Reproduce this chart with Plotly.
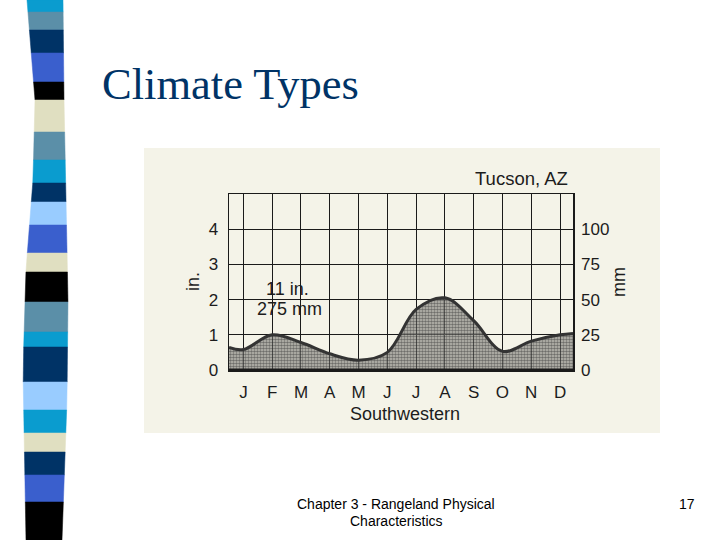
import plotly.graph_objects as go

# ---- data ----
months = ["J", "F", "M", "A", "M", "J", "J", "A", "S", "O", "N", "D"]
month_pos = list(range(12))
precip_in = [0.58, 1.00, 0.78, 0.46, 0.28, 0.50, 1.72, 2.05, 1.40, 0.53, 0.82, 1.00]
edge_pos = [-0.5, 11.45]
edge_in = [0.64, 1.04]
in_ticks = [0, 1, 2, 3, 4]
mm_ticks = [0, 25, 50, 75, 100]

x_vals = [edge_pos[0]] + month_pos + [edge_pos[1]]
y_vals = [edge_in[0]] + precip_in + [edge_in[1]]

# ---- geometry helpers (pixel -> paper) ----
L, R, T, B = 229, 573, 194, 370
W, H = 720, 540


def px(x):
    return (x - L) / (R - L)


def py(y):
    return (B - y) / (B - T)


fig = go.Figure()

fig.add_trace(go.Scatter(
    x=x_vals, y=y_vals, mode="lines",
    line=dict(shape="spline", smoothing=1.0, color="#333333", width=3),
    fill="tozeroy",
    fillcolor="rgba(95,95,90,0.55)",
    fillpattern=dict(shape=".", size=3, solidity=0.6,
                     fgcolor="#1e1e1e", bgcolor="rgba(150,150,145,0.55)"),
    hoverinfo="skip", showlegend=False,
))
# invisible trace for right axis
fig.add_trace(go.Scatter(x=[0], y=[0], yaxis="y2", mode="markers",
                         marker=dict(opacity=0), showlegend=False,
                         hoverinfo="skip"))

txt = "#1c1c1c"
fnt = dict(family="Liberation Sans, Arial", size=17, color=txt)

fig.update_layout(
    width=W, height=H,
    margin=dict(l=L, r=W - R, t=T, b=H - B),
    paper_bgcolor="white",
    plot_bgcolor="rgba(0,0,0,0)",
    xaxis=dict(range=[-0.5, 11.45], tickvals=month_pos, ticktext=months,
               showgrid=True, gridcolor="#1a1a1a", gridwidth=1,
               zeroline=False, showline=True, linecolor="#1a1a1a",
               linewidth=1.5, mirror=True, ticks="", ticklabelstandoff=6,
               tickfont=fnt, fixedrange=True),
    yaxis=dict(range=[0, 5], tickvals=in_ticks, ticktext=[str(v) for v in in_ticks],
               showgrid=True, gridcolor="#1a1a1a", gridwidth=1,
               zeroline=False, showline=True, linecolor="#1a1a1a",
               linewidth=1.5, mirror=True, ticks="", ticklabelstandoff=6,
               tickfont=fnt, fixedrange=True),
    yaxis2=dict(range=[0, 125], overlaying="y", side="right",
                tickvals=mm_ticks, ticktext=[str(v) for v in mm_ticks],
                showgrid=False, zeroline=False, showline=False, ticks="",
                ticklabelstandoff=7, tickfont=fnt, fixedrange=True),
    showlegend=False,
)

shapes = []
# scanned page background
shapes.append(dict(type="rect", xref="paper", yref="paper",
                   x0=px(144), x1=px(660), y0=py(433), y1=py(148),
                   fillcolor="#f4f3e8", line=dict(width=0), layer="below"))
# thick bottom baseline
shapes.append(dict(type="line", xref="paper", yref="paper",
                   x0=0, x1=1, y0=0, y1=0,
                   line=dict(color="#1a1a1a", width=3)))

# decorative stripe bar on the left
stripe_bounds = [0, 12, 30, 53, 82, 100, 132, 160, 183, 202, 225, 253, 272,
                 302, 332, 347, 382, 410, 433, 452, 475, 502, 540]
stripe_colors = ["#0a9ccf", "#5b8fa8", "#003366", "#3a5fcd", "#000000",
                 "#e0dfc1", "#5b8fa8", "#0a9ccf", "#003366", "#99ccff",
                 "#3a5fcd", "#e0dfc1", "#000000", "#5b8fa8", "#0a9ccf",
                 "#003366", "#99ccff", "#0a9ccf", "#e0dfc1", "#003366",
                 "#3a5fcd", "#000000"]
left_edge = [(0, 27), (100, 35), (180, 33), (270, 26), (370, 23), (540, 26)]
right_edge = [(0, 63), (100, 64), (300, 68), (400, 67), (540, 62)]


def interp(pts, y):
    for (y0, x0), (y1, x1) in zip(pts[:-1], pts[1:]):
        if y0 <= y <= y1:
            return x0 + (x1 - x0) * (y - y0) / (y1 - y0)
    return pts[-1][1]


for i, c in enumerate(stripe_colors):
    y0, y1 = stripe_bounds[i], stripe_bounds[i + 1]
    pts = [(interp(left_edge, y0), y0), (interp(right_edge, y0), y0),
           (interp(right_edge, y1), y1), (interp(left_edge, y1), y1)]
    path = "M " + " L ".join(f"{px(a):.5f},{py(b):.5f}" for a, b in pts) + " Z"
    shapes.append(dict(type="path", xref="paper", yref="paper", path=path,
                       fillcolor=c, line=dict(width=0.5, color=c), layer="above"))

fig.update_layout(shapes=shapes)


def ann(text, x, y, size=18, family="Liberation Sans, Arial", color=txt,
        xanchor="center", angle=0):
    fig.add_annotation(text=text, x=px(x), y=py(y), xref="paper", yref="paper",
                       showarrow=False, xanchor=xanchor, yanchor="middle",
                       textangle=angle,
                       font=dict(family=family, size=size, color=color))


ann("Climate Types", 100, 84, size=44.5, family="Liberation Serif, Times New Roman",
    color="#003366", xanchor="left")
ann("Tucson, AZ", 570, 178, size=18.5, xanchor="right")
ann("in.", 193, 282, size=18, angle=-90)
ann("mm", 619, 282, size=18, angle=-90)
ann("11 in.", 287, 289, size=18)
ann("275 mm", 289, 309, size=18)
ann("Southwestern", 405, 414, size=18)
ann("Chapter 3 - Rangeland Physical", 396, 504, size=14, color="#000000")
ann("Characteristics", 396, 521, size=14, color="#000000")
ann("17", 687, 504, size=14, color="#000000")

fig.write_html("out.html",
               config={"displayModeBar": False, "staticPlot": True},
               post_script="document.body.style.margin='0';"
                           "document.body.style.overflow='hidden';")
